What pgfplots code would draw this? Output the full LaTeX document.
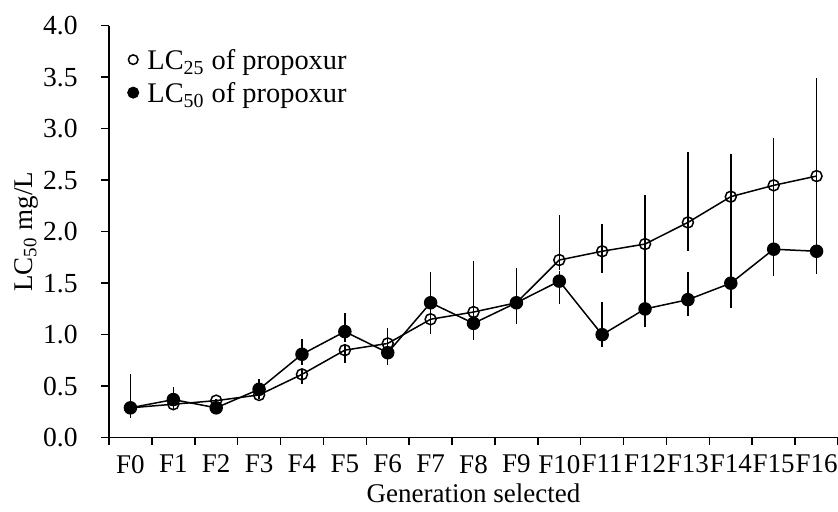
\documentclass[border=0pt]{standalone}
\usepackage{fontspec}
\setmainfont{Liberation Serif}
\usepackage{pgfplots}
\pgfplotsset{compat=1.18}
\begin{document}
\fontsize{13.5pt}{16pt}\selectfont
\begin{tikzpicture}
\begin{axis}[
  name=main,
  scale only axis, width=364.5pt, height=206pt,
  xmin=-0.5, xmax=16.5, ymin=0, ymax=4,
  axis lines=left,
  axis line style={-, line width=0.75pt, black},
  tick align=outside,
  tick style={black, line width=0.75pt},
  major tick length=4pt, minor tick length=3.5pt,
  ytick={0,0.5,1,1.5,2,2.5,3,3.5,4},
  yticklabels={0.0,0.5,1.0,1.5,2.0,2.5,3.0,3.5,4.0},
  xtick={0,1,2,3,4,5,6,7,8,9,10,11,12,13,14,15,16},
  xticklabels={F0,F1,F2,F3,F4,F5,F6,F7,F8,F9,F10,F11,F12,F13,F14,F15,F16},
  minor xtick={-0.5,0.5,1.5,2.5,3.5,4.5,5.5,6.5,7.5,8.5,9.5,10.5,11.5,12.5,13.5,14.5,15.5,16.5},
  major x tick style={draw=none},
  xticklabel style={font=\fontsize{13.5pt}{16pt}\selectfont},
  yticklabel style={font=\fontsize{13.8pt}{16pt}\selectfont, xshift=-7pt},
  xlabel={Generation selected},
  ylabel={LC\textsubscript{50} mg/L},
  every axis x label/.style={at={(axis description cs:0.5,-0.158)}, anchor=base},
  every axis y label/.style={at={(axis description cs:-0.1056,0.5)}, rotate=90, anchor=base},
  legend style={at={(axis description cs:0.025,0.945)}, anchor=north west, draw=none, fill=none,
    inner sep=0pt, font=\fontsize{14.2pt}{16pt}\selectfont, row sep=2pt, column sep=4.3pt,
    nodes={inner sep=0pt, text height=10.5pt, text depth=4pt}},
  legend cell align=left,
  legend image code/.code={\draw[#1] plot coordinates {(0pt,1.8pt)};},
  clip=false,
]
\addlegendimage{only marks, mark=o, mark size=2.4pt, black, line width=0.75pt}
\addlegendentry{LC\textsubscript{25} of propoxur}
\addlegendimage{only marks, mark=*, mark size=2.8pt, black}
\addlegendentry{LC\textsubscript{50} of propoxur}

% LC25 (open)
\addplot+[forget plot, black, line width=0.75pt, mark=o, mark size=2.75pt, mark options={black, line width=0.75pt},
  error bars/.cd, y dir=both, y explicit, error mark=none, error bar style={black, line width=0.75pt}]
coordinates {
(0,0.29) += (0,0.0) -= (0,0.0)
(1,0.325) += (0,0.03) -= (0,0.045)
(2,0.36) += (0,0.02) -= (0,0.02)
(3,0.415) += (0,0.03) -= (0,0.035)
(4,0.615) += (0,0.05) -= (0,0.095)
(5,0.85) += (0,0.05) -= (0,0.12)
(6,0.915) += (0,0.15) -= (0,0.05)
(7,1.15) += (0,0.05) -= (0,0.14)
(8,1.22) += (0,0.495) -= (0,0.05)
(9,1.31) += (0,0.34) -= (0,0.10)
(10,1.725) += (0,0.435) -= (0,0.10)
(11,1.81) += (0,0.26) -= (0,0.21)
(12,1.88) += (0,0.48) -= (0,0.40)
(13,2.09) += (0,0.68) -= (0,0.28)
(14,2.34) += (0,0.41) -= (0,0.50)
(15,2.45) += (0,0.46) -= (0,0.50)
(16,2.54) += (0,0.95) -= (0,0.45)
};

% LC50 (filled)
\addplot+[forget plot, black, line width=0.75pt, mark=*, mark size=3pt, mark options={black, fill=black},
  error bars/.cd, y dir=both, y explicit, error mark=none, error bar style={black, line width=0.75pt}]
coordinates {
(0,0.29) += (0,0.325) -= (0,0.10)
(1,0.37) += (0,0.125) -= (0,0.05)
(2,0.29) += (0,0.03) -= (0,0.03)
(3,0.47) += (0,0.10) -= (0,0.05)
(4,0.81) += (0,0.145) -= (0,0.10)
(5,1.03) += (0,0.18) -= (0,0.10)
(6,0.825) += (0,0.05) -= (0,0.12)
(7,1.31) += (0,0.30) -= (0,0.10)
(8,1.11) += (0,0.10) -= (0,0.16)
(9,1.31) += (0,0.34) -= (0,0.21)
(10,1.52) += (0,0.10) -= (0,0.22)
(11,1.00) += (0,0.32) -= (0,0.12)
(12,1.25) += (0,0.30) -= (0,0.18)
(13,1.34) += (0,0.27) -= (0,0.16)
(14,1.50) += (0,0.50) -= (0,0.24)
(15,1.83) += (0,0.40) -= (0,0.26)
(16,1.81) += (0,0.30) -= (0,0.22)
};
\end{axis}
\pgfresetboundingbox
\useasboundingbox ([xshift=-54.5pt,yshift=-37.15pt]main.south west) rectangle ([yshift=12.85pt]main.north east);
\end{tikzpicture}
\end{document}
